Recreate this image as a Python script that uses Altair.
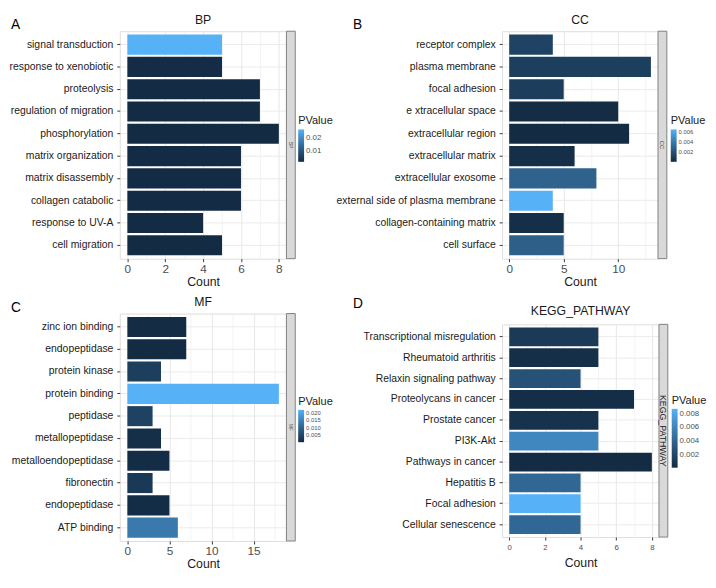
import altair as alt
import pandas as pd

# ---------------- data ----------------
BP_terms = ["signal transduction", "response to xenobiotic", "proteolysis", "regulation of migration",
            "phosphorylation", "matrix organization", "matrix disassembly", "collagen catabolic",
            "response to UV-A", "cell migration"]
BP_count = [5, 5, 7, 7, 8, 6, 6, 6, 4, 5]
BP_p = [0.0265, 0.0021, 0.0019, 0.0020, 0.0018, 0.0019, 0.0019, 0.0019, 0.0020, 0.0018]

CC_terms = ["receptor complex", "plasma membrane", "focal adhesion", "e  xtracellular space",
            "extracellular region", "extracellular matrix", "extracellular exosome",
            "external side of plasma membrane", "collagen-containing matrix", "cell surface"]
CC_count = [4, 13, 5, 10, 11, 6, 8, 4, 5, 5]
CC_p = [0.0014, 0.0012, 0.0011, 0.0002, 0.0001, 0.0003, 0.0030, 0.0066, 0.0003, 0.0028]

MF_terms = ["zinc ion binding", "endopeptidase ", "protein kinase", "protein binding", "peptidase",
            "metallopeptidase", "metalloendopeptidase", "fibronectin", "endopeptidase", "ATP binding"]
MF_count = [7, 7, 4, 18, 3, 4, 5, 3, 5, 6]
MF_p = [0.0006, 0.0004, 0.0040, 0.0220, 0.0045, 0.0012, 0.0008, 0.0030, 0.0008, 0.0135]

KEGG_terms = ["Transcriptional misregulation", "Rheumatoid arthritis", "Relaxin signaling pathway",
              "Proteolycans in cancer", "Prostate cancer", "PI3K-Akt", "Pathways in cancer",
              "Hepatitis B", "Focal adhesion", "Cellular senescence"]
KEGG_count = [5, 5, 4, 7, 5, 5, 8, 4, 4, 4]
KEGG_p = [0.0012, 0.0004, 0.0028, 0.0003, 0.0006, 0.0062, 0.0001, 0.0042, 0.0087, 0.0042]

FONT = "Liberation Sans, Arial"


def panel(terms, counts, pvals, name, letter, xmax, major, minor_step, legend_vals, legend_fmt,
          w, h, letter_xy, legend_xy, grad_len, legend_label_size, strip_font,
          title_offset=-8, tick_label_size=12, label_pad=2, title_pad=1, strip_color="#4d4d4d"):
    df = pd.DataFrame({"Term": terms, "Count": counts, "PValue": pvals})
    ticks = []
    v = 0.0
    while v <= xmax * 1.05 + 1e-9:
        ticks.append(round(v, 3))
        v += minor_step
    test = f"abs(datum.value / {major} - round(datum.value / {major})) < 0.001"
    x_axis = alt.Axis(
        values=ticks, title="Count", labelExpr=f"{test} ? datum.label : ''",
        gridColor={"condition": {"test": test, "value": "#e6e6e6"}, "value": "#f3f3f3"},
        tickOpacity={"condition": {"test": test, "value": 1}, "value": 0},
        tickColor="#333333", tickSize=3, domain=False, labelFontSize=tick_label_size,
        labelColor="#4d4d4d", labelPadding=label_pad, titleFontSize=12.5, titleFontWeight="normal",
        titleColor="#1a1a1a", titlePadding=title_pad, labelFont=FONT, titleFont=FONT,
        labelFlush=False,
    )
    y_axis = alt.Axis(
        title=None,
        bandPosition=0.5, domain=False, tickColor="#333333", tickSize=3,
        labelFontSize=10.6, labelColor="#1a1a1a", labelPadding=4, labelFont=FONT,
        gridColor="#ebebeb", grid=True, labelLimit=400,
    )
    bars = alt.Chart(df).mark_bar().encode(
        x=alt.X("Count:Q", scale=alt.Scale(domain=[-0.05 * xmax, 1.05 * xmax], nice=False),
                axis=x_axis),
        y=alt.Y("Term:N", sort=None, scale=alt.Scale(paddingInner=0.1, paddingOuter=0.15),
                axis=y_axis),
        color=alt.Color(
            "PValue:Q",
            scale=alt.Scale(domain=[min(pvals), max(pvals)], range=["#132B43", "#56B1F7"],
                            interpolate="lab", nice=False),
            legend=alt.Legend(
                orient="none", legendX=legend_xy[0], legendY=legend_xy[1], title="PValue",
                values=legend_vals, format=legend_fmt, gradientLength=grad_len,
                gradientThickness=6, gradientStrokeWidth=0, titleFontSize=11.2,
                titleFontWeight="normal", titleColor="#1a1a1a", titleFont=FONT,
                labelFontSize=legend_label_size, labelColor="#4d4d4d", labelFont=FONT,
                titlePadding=3, labelOffset=2, tickCount=len(legend_vals),
            ),
        ),
    )
    sdf = pd.DataFrame({"s": [name], "letter": [letter]})
    # facet strip on the right of the panel
    strip_bg = alt.Chart(sdf).mark_rect(
        fill="#d9d9d9", stroke="#7f7f7f", strokeWidth=1
    ).encode(x=alt.value(w), x2=alt.value(w + 9), y=alt.value(0), y2=alt.value(h))
    strip_txt = alt.Chart(sdf).mark_text(
        angle=90, fontSize=strip_font, color=strip_color, font=FONT
    ).encode(text="s:N", x=alt.value(w + 4.5), y=alt.value(h / 2))
    # panel letter
    letter_txt = alt.Chart(sdf).mark_text(
        fontSize=14, color="#000000", font=FONT, align="left", baseline="top"
    ).encode(text="letter:N", x=alt.value(letter_xy[0]), y=alt.value(letter_xy[1]))
    return alt.layer(bars, strip_bg, strip_txt, letter_txt).properties(
        width=w, height=h,
        title=alt.TitleParams(name, fontSize=12.5, fontWeight="normal", color="#1a1a1a",
                              font=FONT, offset=title_offset),
    )


pA = panel(BP_terms, BP_count, BP_p, "BP", "A", 8, 2, 1, [0.01, 0.02], ".2f",
           170, 232, (-111, -13), (182, 86), 33, 8, 5)
pB = panel(CC_terms, CC_count, CC_p, "CC", "B", 13, 5, 2.5, [0.002, 0.004, 0.006], ".3f",
           159, 232, (-152, -13), (172, 86), 33, 6, 6)
pC = panel(MF_terms, MF_count, MF_p, "MF", "C", 18, 5, 2.5, [0.005, 0.010, 0.015, 0.020], ".3f",
           170, 232, (-111, -13), (182, 84), 33, 6, 5)
pD = panel(KEGG_terms, KEGG_count, KEGG_p, "KEGG_PATHWAY", "D", 8, 2, 1,
           [0.002, 0.004, 0.006, 0.008], ".3f",
           160, 217, (-152, -28), (173, 72), 60, 8, 9,
           title_offset=-21, tick_label_size=8, label_pad=4, title_pad=5, strip_color="#1a1a1a")

col1 = alt.vconcat(pA, pC, spacing=8).resolve_scale(color="independent")
col2 = alt.vconcat(pB, pD, spacing=8).resolve_scale(color="independent")

chart = alt.hconcat(col1, col2, spacing=0).resolve_scale(color="independent").properties(
    padding=0
).configure_view(stroke="#b3b3b3", strokeWidth=1).configure(background="white")

chart.save("out.html", embed_options={"renderer": "svg", "actions": False})
